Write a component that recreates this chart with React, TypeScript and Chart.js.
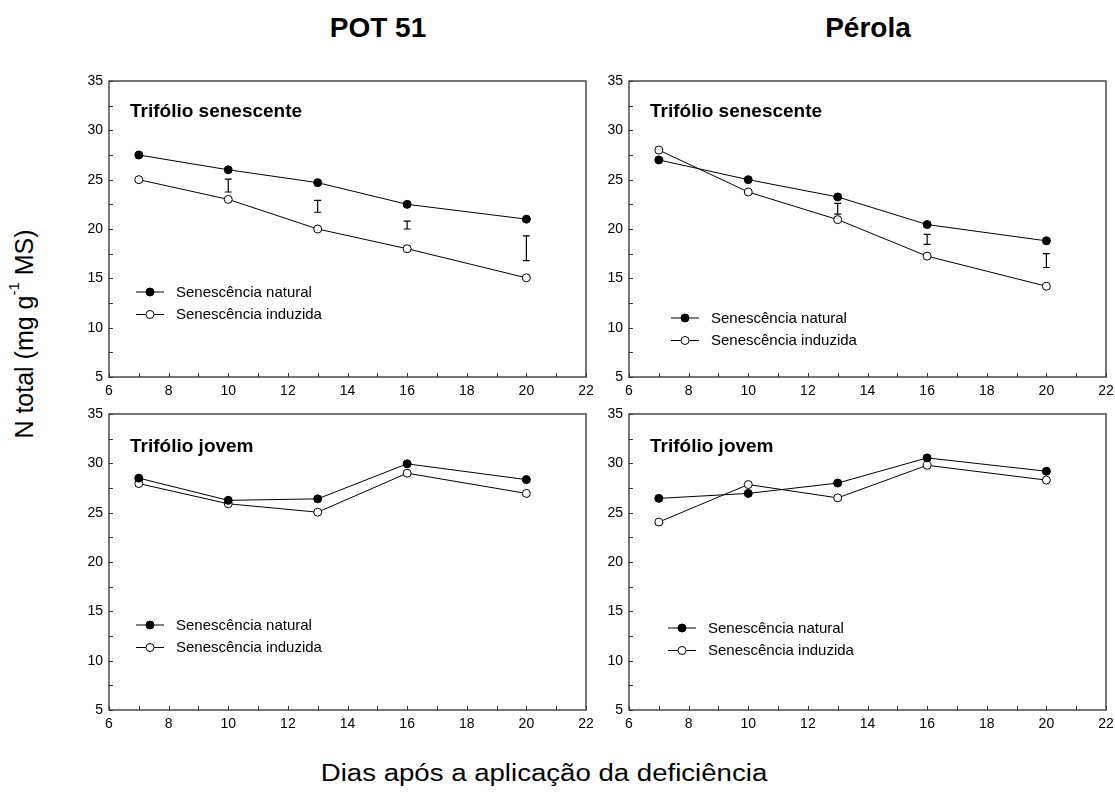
import React, { useEffect, useRef } from "react";
import { Chart, registerables } from "chart.js";
Chart.register(...registerables);

// ---- data ----
const days = [7, 10, 13, 16, 20];

const xTickLabels = [6, 8, 10, 12, 14, 16, 18, 20, 22];
const yTickLabels = [5, 10, 15, 20, 25, 30, 35];
const xTickMarks = [6, 7, 8, 9, 10, 11, 12, 13, 14, 15, 16, 17, 18, 19, 20, 21, 22];
const yTickMarks = [5, 7.5, 10, 12.5, 15, 17.5, 20, 22.5, 25, 27.5, 30, 32.5, 35];

const seriesNames = ["Senescência natural", "Senescência induzida"];

// POT 51 – trifólio senescente
const potSenNatural = [27.5, 26.0, 24.7, 22.5, 21.0];
const potSenInduced = [25.0, 23.0, 20.0, 18.0, 15.05];
const potSenErrDays = [10, 13, 16, 20];
const potSenErrLow = [23.75, 21.7, 20.0, 16.8];
const potSenErrHigh = [25.05, 22.9, 20.8, 19.3];

// Pérola – trifólio senescente
const perSenNatural = [27.0, 25.0, 23.25, 20.45, 18.8];
const perSenInduced = [28.0, 23.75, 20.95, 17.25, 14.2];
const perSenErrDays = [13, 16, 20];
const perSenErrLow = [21.5, 18.45, 16.1];
const perSenErrHigh = [22.6, 19.45, 17.5];

// POT 51 – trifólio jovem
const potJovNatural = [28.5, 26.25, 26.4, 29.95, 28.35];
const potJovInduced = [27.95, 25.9, 25.05, 29.0, 26.95];

// Pérola – trifólio jovem
const perJovNatural = [26.45, 26.95, 28.0, 30.55, 29.2];
const perJovInduced = [24.05, 27.85, 26.5, 29.8, 28.3];

const FONT = "'Liberation Sans', Arial, Helvetica, sans-serif";

type PanelProps = {
  left: number;
  top: number;
  natural: number[];
  induced: number[];
  errDays: number[];
  errLow: number[];
  errHigh: number[];
  label: string;
  labelY: number;
  legendX: number;
  legendY: number;
};

const Y_W = 35;
const X_H = 25;
const PAD_T = 10;
const PAD_R = 10;
const AREA_W = 477;
const AREA_H = 296;
const MARKER_R = 4;

function Panel(props: PanelProps) {
  const ref = useRef<HTMLCanvasElement>(null);
  const cw = Y_W + AREA_W + PAD_R;
  const ch = PAD_T + AREA_H + X_H;

  useEffect(() => {
    const { natural, induced, errDays, errLow, errHigh, label, labelY, legendX, legendY } = props;
    const decor = {
      id: "decor",
      beforeDatasetsDraw(chart: any) {
        const { ctx, chartArea: a, scales } = chart;
        const x = scales.x;
        const y = scales.y;
        ctx.save();
        // frame
        ctx.strokeStyle = "#4a4a4a";
        ctx.lineWidth = 1.5;
        ctx.strokeRect(a.left, a.top, a.right - a.left, a.bottom - a.top);
        // inward ticks
        ctx.beginPath();
        ctx.lineWidth = 1;
        ctx.strokeStyle = "#333";
        for (const v of xTickMarks) {
          const px = Math.round(x.getPixelForValue(v)) + 0.5;
          ctx.moveTo(px, a.bottom);
          ctx.lineTo(px, a.bottom - 4);
        }
        for (const v of yTickMarks) {
          const py = Math.round(y.getPixelForValue(v)) + 0.5;
          ctx.moveTo(a.left, py);
          ctx.lineTo(a.left + 4, py);
        }
        ctx.stroke();
        // error bars
        ctx.beginPath();
        ctx.strokeStyle = "#000";
        ctx.lineWidth = 1.2;
        errDays.forEach((d, i) => {
          const px = x.getPixelForValue(d);
          const lo = y.getPixelForValue(errLow[i]);
          const hi = y.getPixelForValue(errHigh[i]);
          ctx.moveTo(px, lo);
          ctx.lineTo(px, hi);
          ctx.moveTo(px - 3.5, lo);
          ctx.lineTo(px + 3.5, lo);
          ctx.moveTo(px - 3.5, hi);
          ctx.lineTo(px + 3.5, hi);
        });
        ctx.stroke();
        ctx.restore();
      },
      afterDatasetsDraw(chart: any) {
        const { ctx, chartArea: a } = chart;
        ctx.save();
        // panel label
        ctx.fillStyle = "#000";
        ctx.font = `bold 19px ${FONT}`;
        ctx.textBaseline = "middle";
        ctx.textAlign = "left";
        ctx.fillText(label, a.left + 21, a.top + labelY);
        // legend
        ctx.font = `15px ${FONT}`;
        seriesNames.forEach((name, i) => {
          const mx = a.left + legendX;
          const my = a.top + legendY + i * 22.5;
          ctx.beginPath();
          ctx.strokeStyle = "#000";
          ctx.lineWidth = 1;
          ctx.moveTo(mx - 14, my);
          ctx.lineTo(mx + 14, my);
          ctx.stroke();
          ctx.beginPath();
          ctx.arc(mx, my, MARKER_R, 0, Math.PI * 2);
          ctx.fillStyle = i === 0 ? "#000" : "#fff";
          ctx.fill();
          ctx.stroke();
          ctx.fillStyle = "#000";
          ctx.fillText(name, mx + 26, my + 0.5);
        });
        ctx.restore();
      },
    };

    const mk = (vals: number[]) => vals.map((v, i) => ({ x: days[i], y: v }));

    const chart = new Chart(ref.current!, {
      type: "line",
      data: {
        datasets: [
          {
            label: seriesNames[0],
            data: mk(natural),
            borderColor: "#000",
            borderWidth: 1,
            pointRadius: MARKER_R,
            pointBackgroundColor: "#000",
            pointBorderColor: "#000",
            pointBorderWidth: 1,
          },
          {
            label: seriesNames[1],
            data: mk(induced),
            borderColor: "#000",
            borderWidth: 1,
            pointRadius: MARKER_R,
            pointBackgroundColor: "#fff",
            pointBorderColor: "#000",
            pointBorderWidth: 1,
          },
        ],
      },
      options: {
        responsive: false,
        animation: false,
        events: [],
        layout: { padding: { top: PAD_T, right: PAD_R, left: 0, bottom: 0 } },
        plugins: { legend: { display: false }, tooltip: { enabled: false } },
        scales: {
          x: {
            type: "linear",
            min: 6,
            max: 22,
            afterBuildTicks: (s: any) => {
              s.ticks = xTickLabels.map((v) => ({ value: v }));
            },
            afterFit: (s: any) => {
              s.height = X_H;
              s.paddingLeft = 0;
              s.paddingRight = 0;
              s.paddingTop = 0;
              s.paddingBottom = 0;
            },
            grid: { display: false, drawTicks: false },
            border: { display: false },
            ticks: {
              color: "#000",
              font: { family: FONT, size: 14 },
              padding: 6,
              maxRotation: 0,
              autoSkip: false,
            },
          },
          y: {
            type: "linear",
            min: 5,
            max: 35,
            afterBuildTicks: (s: any) => {
              s.ticks = yTickLabels.map((v) => ({ value: v }));
            },
            afterFit: (s: any) => {
              s.width = Y_W;
              s.paddingLeft = 0;
              s.paddingRight = 0;
              s.paddingTop = 0;
              s.paddingBottom = 0;
            },
            grid: { display: false, drawTicks: false },
            border: { display: false },
            ticks: {
              color: "#000",
              font: { family: FONT, size: 14 },
              padding: 6,
              autoSkip: false,
            },
          },
        },
      },
      plugins: [decor],
    } as any);
    return () => chart.destroy();
  }, []);

  return (
    <canvas
      ref={ref}
      width={cw}
      height={ch}
      style={{
        position: "absolute",
        left: props.left - Y_W,
        top: props.top - PAD_T,
        width: cw,
        height: ch,
        display: "block",
      }}
    />
  );
}

export default function App() {
  const textBase: React.CSSProperties = {
    position: "absolute",
    fontFamily: FONT,
    color: "#000",
    whiteSpace: "nowrap",
    lineHeight: 1,
  };
  return (
    <div
      style={{
        position: "absolute",
        left: 0,
        top: 0,
        width: 1115,
        height: 794,
        background: "#fff",
        overflow: "hidden",
      }}
    >
      <div style={{ ...textBase, left: 378, top: 14, transform: "translateX(-50%)", fontSize: 28, fontWeight: "bold" }}>
        POT 51
      </div>
      <div style={{ ...textBase, left: 868, top: 14, transform: "translateX(-50%)", fontSize: 28, fontWeight: "bold" }}>
        Pérola
      </div>
      <div
        style={{
          ...textBase,
          left: 24,
          top: 334,
          fontSize: 25,
          transform: "translate(-50%, -50%) rotate(-90deg)",
        }}
      >
        N total (mg g<sup style={{ fontSize: 15, verticalAlign: "top", position: "relative", top: -6 }}>-1</sup> MS)
      </div>
      <div
        style={{
          ...textBase,
          left: 544,
          top: 762,
          fontSize: 23,
          transform: "translateX(-50%) scaleX(1.2)",
        }}
      >
        Dias após a aplicação da deficiência
      </div>

      <Panel
        left={109}
        top={81}
        natural={potSenNatural}
        induced={potSenInduced}
        errDays={potSenErrDays}
        errLow={potSenErrLow}
        errHigh={potSenErrHigh}
        label="Trifólio senescente"
        labelY={31}
        legendX={41}
        legendY={211}
      />
      <Panel
        left={629}
        top={81}
        natural={perSenNatural}
        induced={perSenInduced}
        errDays={perSenErrDays}
        errLow={perSenErrLow}
        errHigh={perSenErrHigh}
        label="Trifólio senescente"
        labelY={31}
        legendX={56}
        legendY={237}
      />
      <Panel
        left={109}
        top={414}
        natural={potJovNatural}
        induced={potJovInduced}
        errDays={[]}
        errLow={[]}
        errHigh={[]}
        label="Trifólio jovem"
        labelY={33}
        legendX={41}
        legendY={211}
      />
      <Panel
        left={629}
        top={414}
        natural={perJovNatural}
        induced={perJovInduced}
        errDays={[]}
        errLow={[]}
        errHigh={[]}
        label="Trifólio jovem"
        labelY={33}
        legendX={53}
        legendY={214}
      />
    </div>
  );
}
